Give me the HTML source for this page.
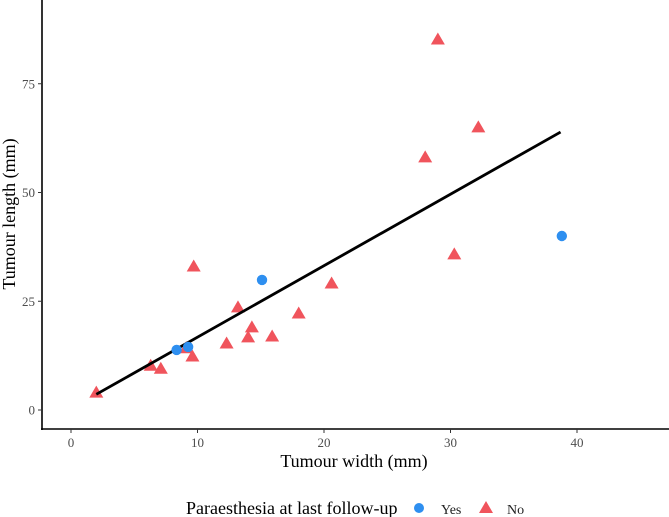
<!DOCTYPE html>
<html><head><meta charset="utf-8"><style>
body{margin:0;background:#fff}
svg{display:block;font-family:"Liberation Serif",serif}
</style></head><body>
<svg width="669" height="517" viewBox="0 0 669 517">
<g id="axes"></g>
<g id="marks"></g>
<text x="354" y="467" font-size="18" text-anchor="middle" fill="#000">Tumour width (mm)</text>
<text transform="translate(15,214) rotate(-90)" font-size="18" text-anchor="middle" fill="#000">Tumour length (mm)</text>
<g>
<text x="186" y="514" font-size="18" fill="#000">Paraesthesia at last follow-up</text>
<circle cx="419" cy="508" r="5" fill="#2e8ff0"/>
<text x="441" y="514" font-size="14" fill="#222">Yes</text>
<polygon points="486,501 493,513 479,513" fill="#f0545c"/>
<text x="507" y="514" font-size="14" fill="#222">No</text>
</g>
</svg>
<script>
const xTicks=[0,10,20,30,40];
const yTicks=[0,25,50,75];
const yesX=[8.35,9.26,15.1,38.8];
const yesY=[13.8,14.5,29.9,40.0];
const noX=[29.0,32.2,28.0,30.3,9.7,20.6,13.2,18.0,14.3,14.0,15.9,12.3,9.6,9.1,6.3,7.1,2.0];
const noY=[85.3,65.1,58.2,35.9,33.1,29.2,23.7,22.3,19.1,16.8,17.0,15.4,12.4,14.3,10.3,9.6,4.1];
const fitX=[2.0,38.7];
const fitY=[3.6,63.9];
const sx=v=>71+v*12.65, sy=v=>410-v*4.35;
const NS="http://www.w3.org/2000/svg";
const ax=document.getElementById('axes'), mk=document.getElementById('marks');
function mkEl(t,a,p){const e=document.createElementNS(NS,t);for(const k in a)e.setAttribute(k,a[k]);p.appendChild(e);return e;}
let e=mkEl('line',{x1:42,y1:0,x2:42,y2:430,stroke:'#000','stroke-width':1.6},ax);


e=mkEl('line',{x1:41,y1:429,x2:669,y2:429,stroke:'#000','stroke-width':1.6},ax);


xTicks.forEach(t=>{
 let l=mkEl('line',{x1:sx(t),y1:429,x2:sx(t),y2:433,stroke:'#333','stroke-width':1},ax);
 
 
 let tx=mkEl('text',{x:sx(t),y:447,'font-size':13,'text-anchor':'middle',fill:'#4d4d4d'},ax);
 tx.textContent=t;
 
 
});
yTicks.forEach(t=>{
 let l=mkEl('line',{x1:38,y1:sy(t),x2:42,y2:sy(t),stroke:'#333','stroke-width':1},ax);
 
 
 let tx=mkEl('text',{x:35,y:sy(t)+4.5,'font-size':13,'text-anchor':'end',fill:'#4d4d4d'},ax);
 tx.textContent=t;
 
 
});
noX.forEach((x,i)=>{
 const cx=sx(x), cy=sy(noY[i]);
 let p=mkEl('polygon',{points:`${cx},${cy-6.5} ${cx+7},${cy+5.5} ${cx-7},${cy+5.5}`,fill:'#f0545c'},mk);
 
 
});
let fl=mkEl('line',{x1:sx(fitX[0]),y1:sy(fitY[0]),x2:sx(fitX[1]),y2:sy(fitY[1]),stroke:'#000','stroke-width':2.8},mk);


yesX.forEach((x,i)=>{
 let c=mkEl('circle',{cx:sx(x),cy:sy(yesY[i]),r:5.2,fill:'#2e8ff0'},mk);
 
 
});
</script>
</body></html>
